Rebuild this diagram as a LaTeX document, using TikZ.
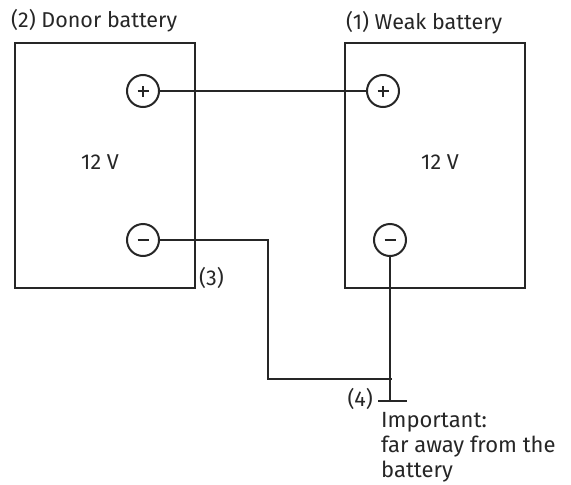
\documentclass[tikz,border=0pt]{standalone}
\usepackage{fontspec}
\setmainfont{Fira Sans}
\begin{document}
\begin{tikzpicture}[x=1pt,y=-1pt,
  wire/.style={line width=2.2pt, color=black!85},
  bat/.style={draw=black!85, line width=2.2pt},
  term/.style={circle, draw=black!85, line width=2pt, minimum size=32pt, inner sep=0pt, fill=white},
  lbl/.style={font=\fontsize{21.5}{26}\selectfont, text=black!85, inner sep=0pt}]
\useasboundingbox (0,0) rectangle (571,485);
% batteries
\draw[bat] (15,43) rectangle (195,288);
\draw[bat] (345,43) rectangle (525,288);
\node[lbl, anchor=west] (t2) at (11,21) {(2) Donor battery};
\node[lbl, anchor=west] (t1) at (346,23) {(1) Weak battery};
\node[lbl] (v2) at (100,162) {12 V};
\node[lbl] (v1) at (440,162) {12 V};
% terminals
\node[term] (p2) at (143,91) {};
\node[term] (p1) at (383,91) {};
\node[term] (m2) at (143,240) {};
\node[term] (m1) at (390,240) {};
\foreach \n in {p2,p1}{
  \draw[line width=2.8pt, black!85] ([xshift=-5.5pt]\n.center) -- ([xshift=5.5pt]\n.center);
  \draw[line width=2.8pt, black!85] ([yshift=-5.5pt]\n.center) -- ([yshift=5.5pt]\n.center);
}
\foreach \n in {m2,m1}{
  \draw[line width=2.8pt, black!85] ([xshift=-5.5pt]\n.center) -- ([xshift=5.5pt]\n.center);
}
% wires
\coordinate (g) at (392,401);
\coordinate (gl) at (378,401);
\coordinate (gr) at (407,401);
\draw[wire] (p2.east) -- (p1.west);
\draw[wire] (m2.east) -- (268,240) -- (268,379) -- (392,379);
\draw[wire] (m1.south) -- (m1.south |- g);
\draw[wire] (gl) -- (gr);
\node[lbl, anchor=west] (n3) at (199,278) {(3)};
\node[lbl, anchor=east] (n4) at (373,399) {(4)};
\node[lbl, anchor=north west, align=left, font=\fontsize{22}{25}\selectfont] (imp) at (381,412) {Important:\\far away from the\\battery};
\end{tikzpicture}
\end{document}
